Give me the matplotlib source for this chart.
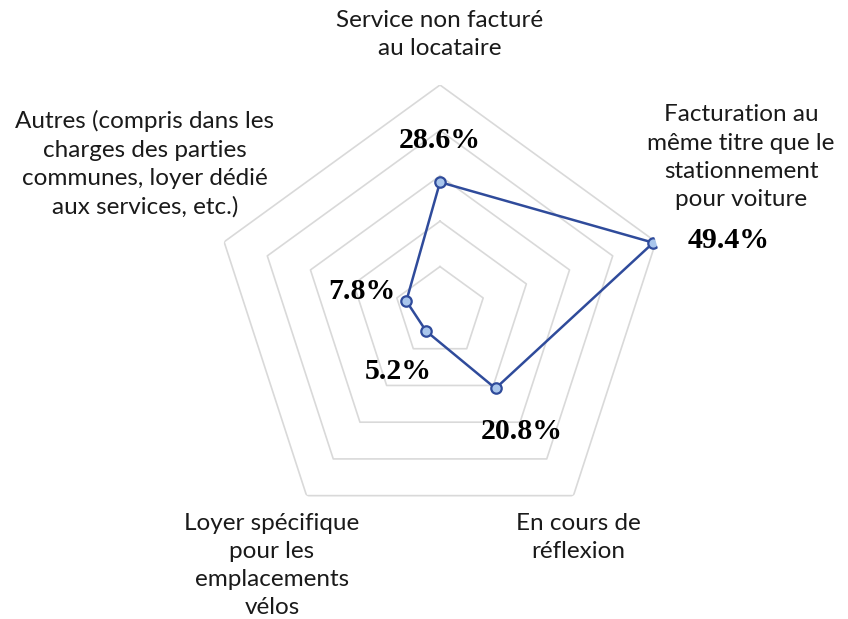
import numpy as np
import matplotlib
matplotlib.use("Agg")
import matplotlib.pyplot as plt

# data
categories = ["Service non facturé\nau locataire",
              "Facturation au\nmême titre que le\nstationnement\npour voiture",
              "En cours de\nréflexion",
              "Loyer spécifique\npour les\nemplacements\nvélos",
              "Autres (compris dans les\ncharges des parties\ncommunes, loyer dédié\naux services, etc.)"]
values = [28.6, 49.4, 20.8, 5.2, 7.8]
value_labels = ["28.6%", "49.4%", "20.8%", "5.2%", "7.8%"]
rings = [10, 20, 30, 40, 50]

line_col = "#2F4B9B"
face_col = "#A9C6EC"
grid_col = "#D9D9D9"

n = len(categories)
angles = np.linspace(0, 2 * np.pi, n, endpoint=False)

fig = plt.figure(figsize=(8.48, 6.19), dpi=100)
ax = fig.add_axes([213 / 848, 80 / 619, 454 / 848, 454 / 619], projection="polar")
ax.set_theta_offset(np.pi / 2)
ax.set_theta_direction(-1)
ax.set_ylim(0, 50)
ax.grid(False)
ax.spines["polar"].set_visible(False)
ax.set_xticks([])
ax.set_yticks([])
ax.patch.set_visible(False)

# pentagon grid
a_closed = np.append(angles, angles[0])
for r in rings:
    ax.plot(a_closed, [r] * (n + 1), color=grid_col, lw=1.2, zorder=1)

# series
v_closed = values + values[:1]
ax.plot(a_closed, v_closed, color=line_col, lw=1.8, zorder=3)
ax.plot(angles, values, "o", ms=7.5, mfc=face_col, mec=line_col, mew=1.6, zorder=4)

# value labels
offsets = [(0, 42), (75, 2), (26, -43), (-28, -40), (-44, 10)]
for a, v, lab, off in zip(angles, values, value_labels, offsets):
    ax.annotate(lab, (a, v), xytext=off, textcoords="offset pixels",
                ha="center", va="center", fontsize=21.5, fontweight="bold",
                family="Liberation Serif", color="black", zorder=5)

# category labels
label_pos = [(0.5, 1.112), (1.163, 0.841), (0.804, 0.004), (0.130, -0.059), (-0.150, 0.826)]
for lab, (x, y) in zip(categories, label_pos):
    ax.text(x, y, lab, transform=ax.transAxes, ha="center", va="center",
            fontsize=17.5, family="Lato", color="#1a1a1a", linespacing=1.42)

fig.savefig("out.png", dpi=100)
